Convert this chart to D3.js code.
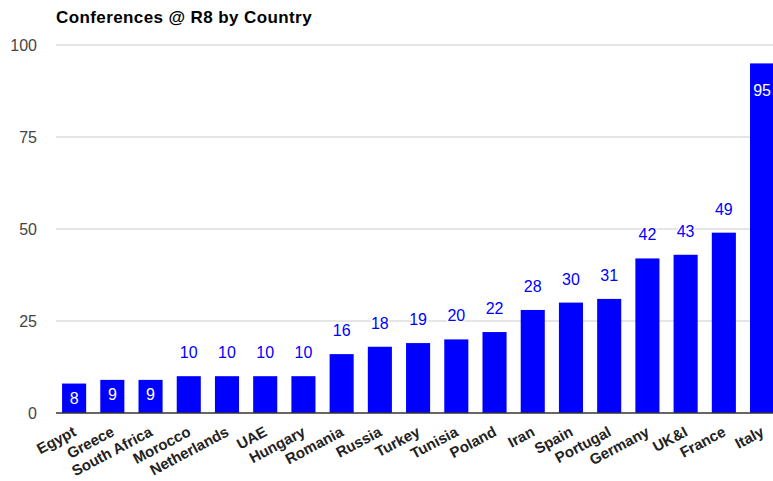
<!DOCTYPE html>
<html><head><meta charset="utf-8">
<script src="https://cdn.jsdelivr.net/npm/d3@7"></script>
<style>body{margin:0;background:#fff}svg{display:block}</style>
</head><body><div id="c"></div>
<script>
const countries = ["Egypt","Greece","South Africa","Morocco","Netherlands","UAE","Hungary","Romania","Russia","Turkey","Tunisia","Poland","Iran","Spain","Portugal","Germany","UK&I","France","Italy"];
const conferences = [8,9,9,10,10,10,10,16,18,19,20,22,28,30,31,42,43,49,95];
const yTicks = [0,25,50,75,100];
const insideLabels = [8,9,95];

const W = 773, H = 481;
const svg = d3.select("#c").append("svg").attr("width", W).attr("height", H)
  .style("font-family", "'Liberation Sans', Arial, sans-serif");

const step = 38.22;
const x0 = 55;
const x = d3.scaleBand().domain(countries).range([x0, x0 + step * countries.length])
  .paddingInner(0.37).paddingOuter(0.185);
const y = d3.scaleLinear().domain([0, 100]).range([413, 45]);

svg.append("text").attr("x", 56).attr("y", 23).attr("font-weight", "bold").attr("font-size", 17)
  .attr("letter-spacing", 0.4).attr("fill", "#000").text("Conferences @ R8 by Country");

const g = svg.append("g");
g.selectAll("line.grid").data(yTicks.filter(d => d > 0)).join("line")
  .attr("x1", 56).attr("x2", W).attr("y1", d => y(d)).attr("y2", d => y(d))
  .attr("stroke", "#cccccc").attr("stroke-width", 1);
g.selectAll("text.yt").data(yTicks).join("text")
  .attr("x", 37).attr("y", d => y(d) + 6).attr("text-anchor", "end")
  .attr("font-size", 16).attr("fill", "#444").text(d => d);

g.selectAll("rect").data(conferences).join("rect")
  .attr("x", (d, i) => x(countries[i])).attr("width", x.bandwidth())
  .attr("y", d => y(d)).attr("height", d => y(0) - y(d))
  .attr("fill", "#0000ff");

g.append("line").attr("x1", 56).attr("x2", W).attr("y1", y(0)).attr("y2", y(0))
  .attr("stroke", "#333").attr("stroke-width", 1.5);

g.selectAll("text.val").data(conferences).join("text")
  .attr("x", (d, i) => x(countries[i]) + x.bandwidth() / 2)
  .attr("y", (d, i) => insideLabels.includes(d) ? (d === 95 ? y(d) + 33 : y(d) + 20) : y(d) - 18)
  .attr("text-anchor", "middle").attr("font-size", 16)
  .attr("fill", d => insideLabels.includes(d) ? "#fff" : "#0000ff")
  .attr("stroke", d => insideLabels.includes(d) ? "none" : "#fff")
  .attr("stroke-width", 3).attr("paint-order", "stroke")
  .text(d => d);

g.selectAll("text.xl").data(countries).join("text")
  .attr("transform", d => `translate(${x(d) + x.bandwidth() / 2 + 3},${435}) rotate(-28)`)
  .attr("text-anchor", "end").attr("font-size", 15).attr("font-weight", "bold")
  .attr("fill", "#222").text(d => d);
</script></body></html>
